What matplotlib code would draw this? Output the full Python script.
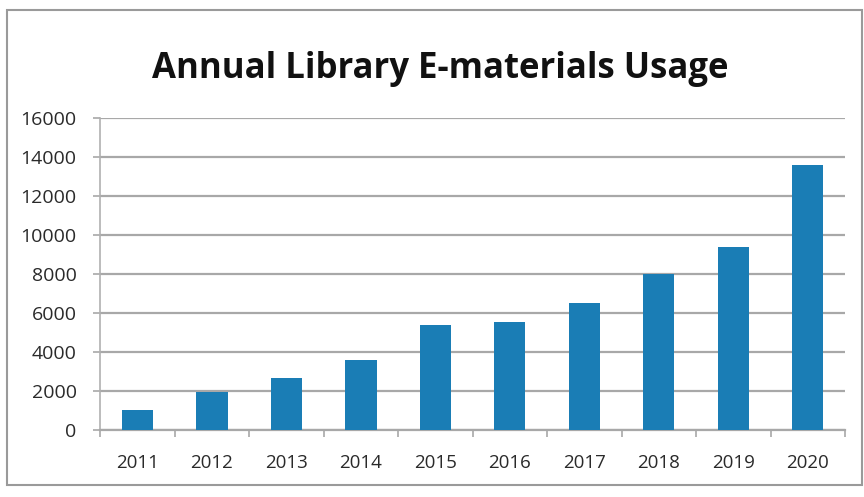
import matplotlib.pyplot as plt
from matplotlib.patches import Rectangle
from matplotlib.ticker import FixedLocator

# dados
anos = ['2011', '2012', '2013', '2014', '2015', '2016', '2017', '2018', '2019', '2020']
uso = [1000, 1950, 2650, 3600, 5400, 5550, 6500, 8000, 9400, 13600]
ticks_y = [0, 2000, 4000, 6000, 8000, 10000, 12000, 14000, 16000]

plt.rcParams['font.family'] = ['Open Sans', 'DejaVu Sans']

fig = plt.figure(figsize=(8.64, 4.97), dpi=100)
fig.patch.set_facecolor('white')

# moldura do grafico
moldura = Rectangle((0.008, 0.025), 0.99, 0.955, transform=fig.transFigure,
                    fill=False, edgecolor='#9a9a9a', linewidth=1.5)
fig.patches.append(moldura)

ax = fig.add_axes([0.116, 0.135, 0.862, 0.628])

x = range(len(anos))
ax.bar(x, uso, width=0.42, color='#1a7db5', zorder=3)

ax.set_ylim(0, 16000)
ax.set_xlim(-0.5, len(anos) - 0.5)
ax.set_yticks(ticks_y)
ax.set_yticklabels([str(t) for t in ticks_y])
ax.set_xticks(list(x))
ax.set_xticklabels(anos)

ax.grid(True, axis='y', color='#a8a8a8', linewidth=1.6, zorder=0)

for lado in ['top', 'right']:
    ax.spines[lado].set_visible(False)
ax.spines['left'].set_color('#b0b0b0')
ax.spines['left'].set_linewidth(1.2)
ax.spines['bottom'].set_color('#a8a8a8')
ax.spines['bottom'].set_linewidth(1.6)

# ticks do eixo x entre as categorias
ax.xaxis.set_minor_locator(FixedLocator([i - 0.5 for i in range(len(anos) + 1)]))
ax.tick_params(axis='x', which='major', length=0, pad=17, labelsize=13.5, labelcolor='#2a2a2a')
ax.tick_params(axis='x', which='minor', length=5, color='#a8a8a8', width=1.2)
ax.tick_params(axis='y', length=5, color='#a8a8a8', width=1.2, pad=12,
               labelsize=14, labelcolor='#2a2a2a')

fig.text(0.51, 0.862, 'Annual Library E-materials Usage', ha='center', va='center',
         fontsize=25, fontweight='bold', color='#111111')

fig.savefig('out.png', dpi=100)
